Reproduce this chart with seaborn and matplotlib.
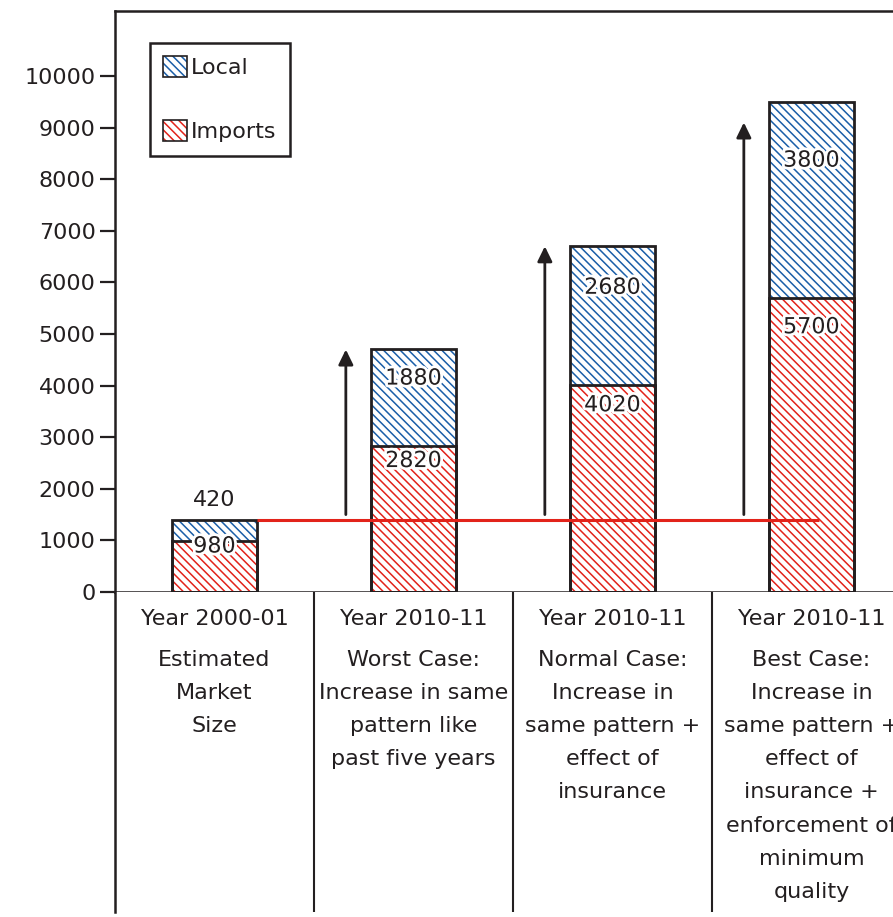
import numpy as np
import pandas as pd
import matplotlib
matplotlib.use('Agg')
import matplotlib.pyplot as plt
import matplotlib.patheffects as pe
from matplotlib.patches import Patch
import seaborn as sns

# values
scenarios = ['Estimated', 'Worst', 'Normal', 'Best']
imports = [980, 2820, 4020, 5700]
local = [420, 1880, 2680, 3800]
arrow_tops = [4700, 6700, 9100]
yticks = [0, 1000, 2000, 3000, 4000, 5000, 6000, 7000, 8000, 9000, 10000]
years = ['Year 2000-01', 'Year 2010-11', 'Year 2010-11', 'Year 2010-11']
descriptions = [
    'Estimated\nMarket\nSize',
    'Worst Case:\nIncrease in same\npattern like\npast five years',
    'Normal Case:\nIncrease in\nsame pattern +\neffect of\ninsurance',
    'Best Case:\nIncrease in\nsame pattern +\neffect of\ninsurance +\nenforcement of\nminimum\nquality',
]

DARK = '#231f20'
RED = '#e2231a'
BLUE = '#1a5ea8'
HATCH = '\\\\\\\\'
BAR_W = 0.43

sns.set_style('ticks')
plt.rcParams['font.family'] = ['DejaVu Sans']
plt.rcParams['font.size'] = 16
plt.rcParams['hatch.linewidth'] = 1.1
plt.rcParams['text.color'] = DARK

df = pd.DataFrame({'scenario': scenarios, 'imports': imports, 'local': local})
df['total'] = df['imports'] + df['local']

fig = plt.figure(figsize=(8.93, 9.17), dpi=100)
ax = fig.add_axes([115 / 893, 325 / 917, 796 / 893, 581 / 917])
tab = fig.add_axes([115 / 893, 5 / 917, 796 / 893, 320 / 917])


def bar_layer(col, face, edge, hatch, lw):
    n0 = len(ax.patches)
    sns.barplot(data=df, x='scenario', y=col, order=scenarios, width=BAR_W,
                errorbar=None, ax=ax)
    for p in ax.patches[n0:]:
        p.set_facecolor(face)
        p.set_edgecolor(edge)
        p.set_hatch(hatch)
        p.set_linewidth(lw)


# hatched fills first, outlines on top
bar_layer('total', 'white', BLUE, HATCH, 0)
bar_layer('imports', 'white', RED, HATCH, 0)
bar_layer('total', 'none', DARK, None, 2.0)
bar_layer('imports', 'none', DARK, None, 2.0)

# value labels
halo = [pe.withStroke(linewidth=4, foreground='white')]
for i, row in df.iterrows():
    ax.text(i, row['imports'] * 0.9, f"{row['imports']}", ha='center', va='center',
            fontsize=16, path_effects=halo, zorder=5)
    if row['local'] < 1000:
        ax.annotate(f"{row['local']}", xy=(i, row['total']), xytext=(0, 7),
                    textcoords='offset points', ha='center', va='bottom', fontsize=16)
    else:
        ax.text(i, row['total'] - 0.3 * row['local'], f"{row['local']}", ha='center',
                va='center', fontsize=16, path_effects=halo, zorder=5)

# baseline of the current market size
base = df['total'].iloc[0]
ax.plot([BAR_W / 2, len(scenarios) - 1 + 0.04], [base, base], color=RED, lw=2.2,
        zorder=6, solid_capstyle='butt')

# growth arrows
for i, top in enumerate(arrow_tops, start=1):
    ax.annotate('', xy=(i - 0.34, top), xytext=(i - 0.34, base + 100),
                arrowprops=dict(arrowstyle='-|>,head_width=0.22,head_length=0.45',
                                mutation_scale=20, lw=2, color=DARK,
                                shrinkA=0, shrinkB=0))

ax.set_xlim(-0.5, len(scenarios) - 0.5)
ax.set_ylim(0, 11260)
ax.set_yticks(yticks)
ax.set_yticklabels([str(t) for t in yticks])
ax.set_xticks([])
ax.set_xlabel('')
ax.set_ylabel('')
ax.tick_params(axis='y', length=11, width=1.6, pad=3, color=DARK, labelcolor=DARK,
               labelsize=16)
for s in ax.spines.values():
    s.set_linewidth(1.8)
    s.set_color(DARK)

handles = [(Patch(facecolor='white', edgecolor=BLUE, hatch=HATCH, lw=0),
            Patch(facecolor='none', edgecolor=DARK, lw=1.2)),
           (Patch(facecolor='white', edgecolor=RED, hatch=HATCH, lw=0),
            Patch(facecolor='none', edgecolor=DARK, lw=1.2))]
leg = ax.legend(handles, ['Local', 'Imports'], loc='upper left',
                bbox_to_anchor=(0.044, 0.945), borderaxespad=0, fontsize=16,
                handlelength=1.05, handleheight=1.05, handletextpad=0.2,
                labelspacing=1.9, borderpad=0.6, fancybox=False, framealpha=1)
leg.get_frame().set_edgecolor(DARK)
leg.get_frame().set_linewidth(1.8)

# table of scenario descriptions under the bars
tab.set_xlim(-0.5, len(scenarios) - 0.5)
tab.set_ylim(320, 0)
tab.set_xticks([])
tab.set_yticks([])
for k in ['top', 'right', 'bottom']:
    tab.spines[k].set_visible(False)
tab.spines['left'].set_linewidth(1.8)
tab.spines['left'].set_color(DARK)
for b in np.arange(0.5, len(scenarios) - 0.5):
    tab.axvline(b, color=DARK, lw=1.5)
for i, (yr, desc) in enumerate(zip(years, descriptions)):
    tab.text(i, 27, yr, ha='center', va='center', fontsize=16)
    tab.text(i, 58, desc, ha='center', va='top', fontsize=16, linespacing=1.82,
             clip_on=False)

fig.savefig('out.png', dpi=100)
